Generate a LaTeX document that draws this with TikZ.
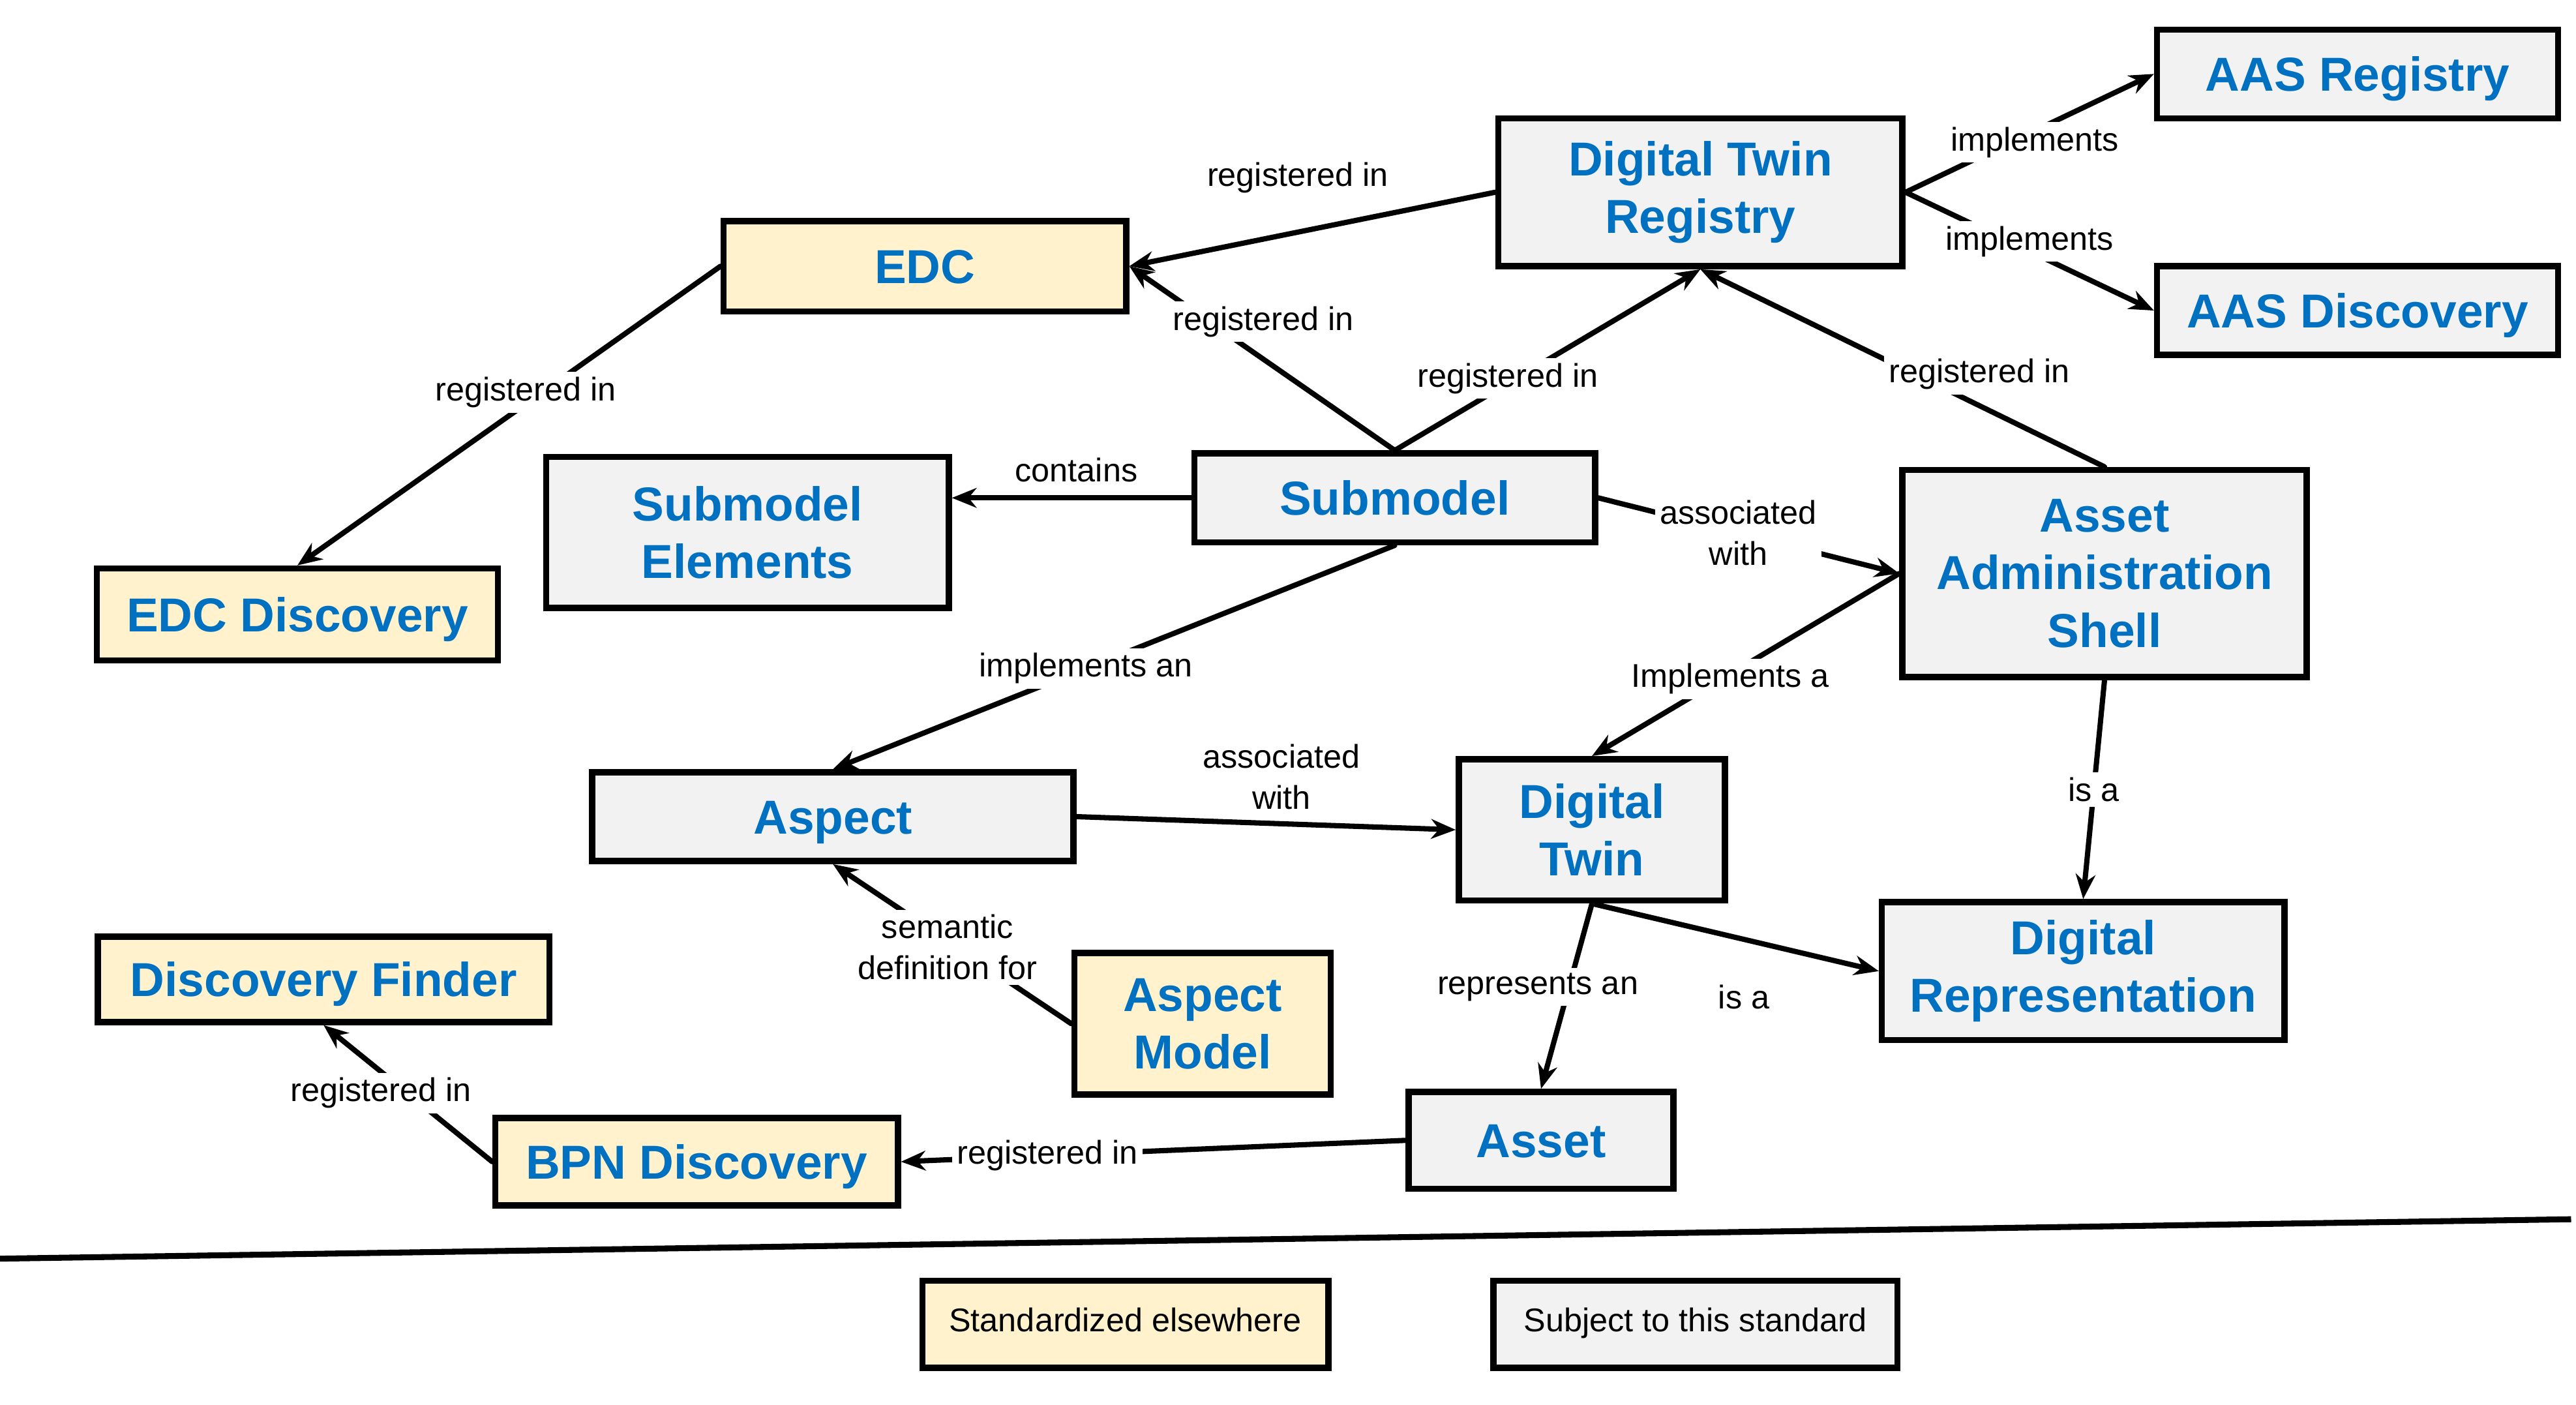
\documentclass[tikz,border=0pt]{standalone}
\usepackage{fontspec}
\setmainfont{Liberation Sans}
\usetikzlibrary{arrows.meta}
\definecolor{ink}{HTML}{000000}
\definecolor{title}{HTML}{0070C0}
\definecolor{spec}{HTML}{F2F2F2}
\definecolor{ext}{HTML}{FFF2CC}
\tikzset{
  box/.style={draw=ink, line width=1.9pt, fill=spec, align=center, inner sep=2pt, text=title, font=\bfseries\fontsize{14.5}{17.5}\selectfont},
  extbox/.style={box, fill=ext},
  one/.style={text height=10.4pt, text depth=0pt},
  dim/.style 2 args={minimum width=#1, minimum height=#2},
  link/.style={draw=ink, line width=1.6pt, line cap=round, -{Stealth[length=7.5pt,width=6pt]}},
  lbl/.style={fill=white, text=ink, inner sep=1.5pt, align=center, font=\fontsize{10}{12.5}\selectfont},
  key/.style={box, text=ink, text height=7.2pt, text depth=3pt, font=\fontsize{10}{12}\selectfont},
}
\begin{document}
\begin{tikzpicture}[x=0.5pt, y=-0.5pt]
  \useasboundingbox (0,0) rectangle (1568,855);
  % subject to this standard
  \node[box, one, dim={122pt}{27pt}] (aasreg) at (1435,45) {AAS Registry};
  \node[box, one, dim={122pt}{27pt}] (aasdisc) at (1435,189) {AAS Discovery};
  \node[box, dim={123pt}{45pt}] (dtr) at (1035,117) {Digital Twin\\Registry};
  \node[box, dim={122.5pt}{46pt}] (smelem) at (455,324) {Submodel\\Elements};
  \node[box, one, dim={122pt}{27pt}] (submodel) at (849,303) {Submodel};
  \node[box, dim={123pt}{63pt}] (aas) at (1281,349) {Asset\\Administration\\Shell};
  \node[box, one, dim={146.5pt}{27pt}] (aspect) at (507,497) {Aspect};
  \node[box, dim={81pt}{43pt}] (dt) at (969,505) {Digital\\Twin};
  \node[box, dim={122.5pt}{42pt}] (digrep) at (1268,591) {Digital\\Representation};
  \node[box, one, dim={80.5pt}{29.5pt}] (asset) at (938,694) {Asset};
  % standardized elsewhere
  \node[extbox, one, dim={122.5pt}{27.5pt}] (edc) at (563,162) {EDC};
  \node[extbox, one, dim={122pt}{28pt}] (edcdisc) at (181,374) {EDC Discovery};
  \node[extbox, one, dim={137.5pt}{26pt}] (discfind) at (197,596) {Discovery Finder};
  \node[extbox, dim={78pt}{43pt}] (aspmodel) at (732,623) {Aspect\\Model};
  \node[extbox, one, dim={122.5pt}{26.5pt}] (bpn) at (424,707) {BPN Discovery};
  % relations
  \draw[link] (dtr.west) -- (edc.east) node[lbl, pos=.54, shift={(0,-33)}] (rDtrEdc) {registered in};
  \draw[link] (edc.west) -- (edcdisc.north) node[lbl, pos=.46, shift={(0,-7)}] (rEdcDisc) {registered in};
  \draw[link] (submodel.north) -- (edc.east) node[lbl, pos=.6, shift={(17,-11)}] (rSmEdc) {registered in};
  \draw[link] (submodel.north) -- (dtr.south) node[lbl, pos=.37, shift={(0,-3)}] (rSmDtr) {registered in};
  \draw[link] (aas.north) -- (dtr.south) node[lbl, pos=.31, shift={(0,-19)}] (rAasDtr) {registered in};
  \draw[link] (dtr.east) -- (aasreg.west) node[lbl, pos=.52, shift={(0,7)}] (iReg) {implements};
  \draw[link] (dtr.east) -- (aasdisc.west) node[lbl, pos=.5, shift={(0,-6)}] (iDisc) {implements};
  \draw[link] (submodel.west) -- (smelem.east |- submodel.west) node[lbl, pos=.48, above=2.5pt] (cSm) {contains};
  \draw[link] (submodel.east) -- (aas.west) node[lbl, pos=.465] (aSmAas) {associated\\with};
  \draw[link] (submodel.south) -- (aspect.north) node[lbl, pos=.55] (iSmAsp) {implements an};
  \draw[link] (aas.west) -- (dt.north) node[lbl, pos=.55, shift={(0,3)}] (iAasDt) {Implements a};
  \draw[link] (aspect.east) -- (dt.west) node[lbl, pos=.54, above=2pt] (aAspDt) {associated\\with};
  \draw[link] (aas.south) -- (digrep.north) node[lbl, pos=.5] (isAas) {is a};
  \draw[link] (dt.south) -- (digrep.west) node[lbl, pos=.53, below=11.5pt] (isDt) {is a};
  \draw[link] (dt.south) -- (asset.north) node[lbl, pos=.45, shift={(-19,0)}] (rpDt) {represents an};
  \draw[link] (aspmodel.west) -- (aspect.south) node[lbl, pos=.52, shift={(0,4)}] (sdAsp) {semantic\\definition for};
  \draw[link] (asset.west) -- (bpn.east) node[lbl, pos=.71] (rAssetBpn) {registered in};
  \draw[link] (bpn.west) -- (discfind.south) node[lbl, pos=.66, shift={(0,13)}] (rBpnFind) {registered in};
  % key
  \coordinate (sepL) at (0,766);
  \coordinate (sepR) at (1565,742);
  \draw[line width=1.8pt] (sepL) -- (sepR);
  \node[key, fill=ext, dim={123.5pt}{26.5pt}] (keyext) at (685,806) {Standardized elsewhere};
  \node[key, dim={123pt}{26.5pt}] (keystd) at (1032,806) {Subject to this standard};
\end{tikzpicture}
\end{document}
